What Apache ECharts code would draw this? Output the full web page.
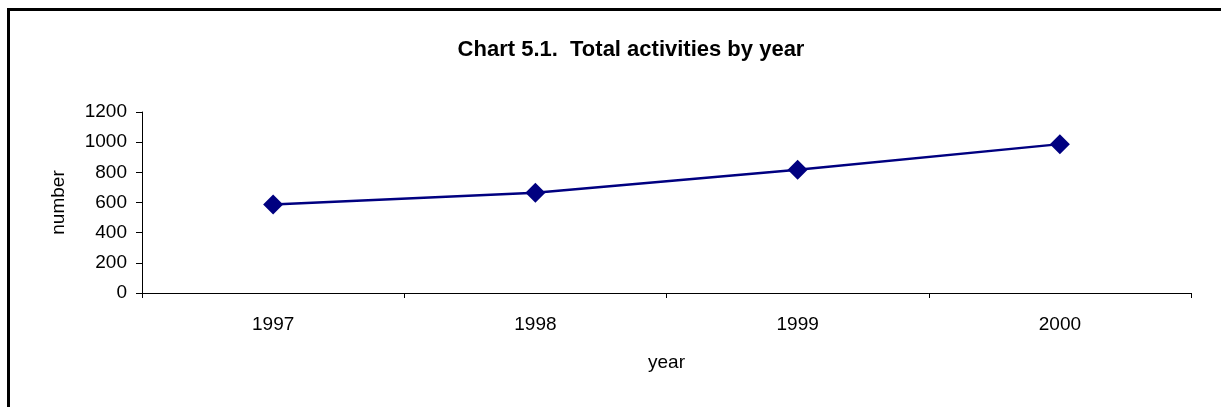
<!DOCTYPE html>
<html>
<head>
<meta charset="utf-8">
<script src="https://cdn.jsdelivr.net/npm/echarts@6/dist/echarts.min.js"></script>
<style>
html,body{margin:0;padding:0;background:#fff;}
#c{width:1221px;height:407px;}
</style>
</head>
<body>
<div id="c"></div>
<script>
const years = ['1997', '1998', '1999', '2000'];
const activities = [587, 665, 817, 987];
const yTicks = { min: 0, max: 1200, interval: 200 };

const chart = echarts.init(document.getElementById('c'), null, { renderer: 'canvas' });
const font = 'Liberation Sans, Arial, sans-serif';
chart.setOption({
  animation: false,
  backgroundColor: '#ffffff',
  title: {
    text: 'Chart 5.1.  Total activities by year',
    left: 626, top: 34, textAlign: 'center',
    textStyle: { fontFamily: font, fontSize: 22, fontWeight: 'bold', color: '#000' }
  },
  graphic: [{
    type: 'rect', shape: { x: 8.5, y: 9.5, width: 1400, height: 600 },
    style: { fill: 'none', stroke: '#000', lineWidth: 3 }, silent: true
  }],
  grid: { left: 142, top: 112, right: 30, bottom: 114 },
  xAxis: {
    type: 'category', data: years, boundaryGap: true,
    name: 'year', nameLocation: 'middle', nameGap: 60,
    nameTextStyle: { fontFamily: font, fontSize: 19, color: '#000' },
    axisLine: { lineStyle: { color: '#000', width: 1 } },
    axisTick: { show: true, inside: false, length: 5, lineStyle: { color: '#000' } },
    axisLabel: { margin: 22, fontFamily: font, fontSize: 19, color: '#000' },
    splitLine: { show: false }
  },
  yAxis: {
    type: 'value', min: yTicks.min, max: yTicks.max, interval: yTicks.interval,
    name: 'number', nameLocation: 'middle', nameGap: 74,
    nameTextStyle: { fontFamily: font, fontSize: 19, color: '#000' },
    axisLine: { show: true, lineStyle: { color: '#000', width: 1 } },
    axisTick: { show: true, inside: false, length: 6, lineStyle: { color: '#000' } },
    axisLabel: { margin: 15, fontFamily: font, fontSize: 19, color: '#000', formatter: v => String(v) },
    splitLine: { show: false }
  },
  series: [{
    type: 'line', data: activities,
    symbol: 'diamond', symbolSize: 20,
    itemStyle: { color: '#000080' },
    lineStyle: { color: '#000080', width: 2.5 }
  }]
});
</script>
</body>
</html>
